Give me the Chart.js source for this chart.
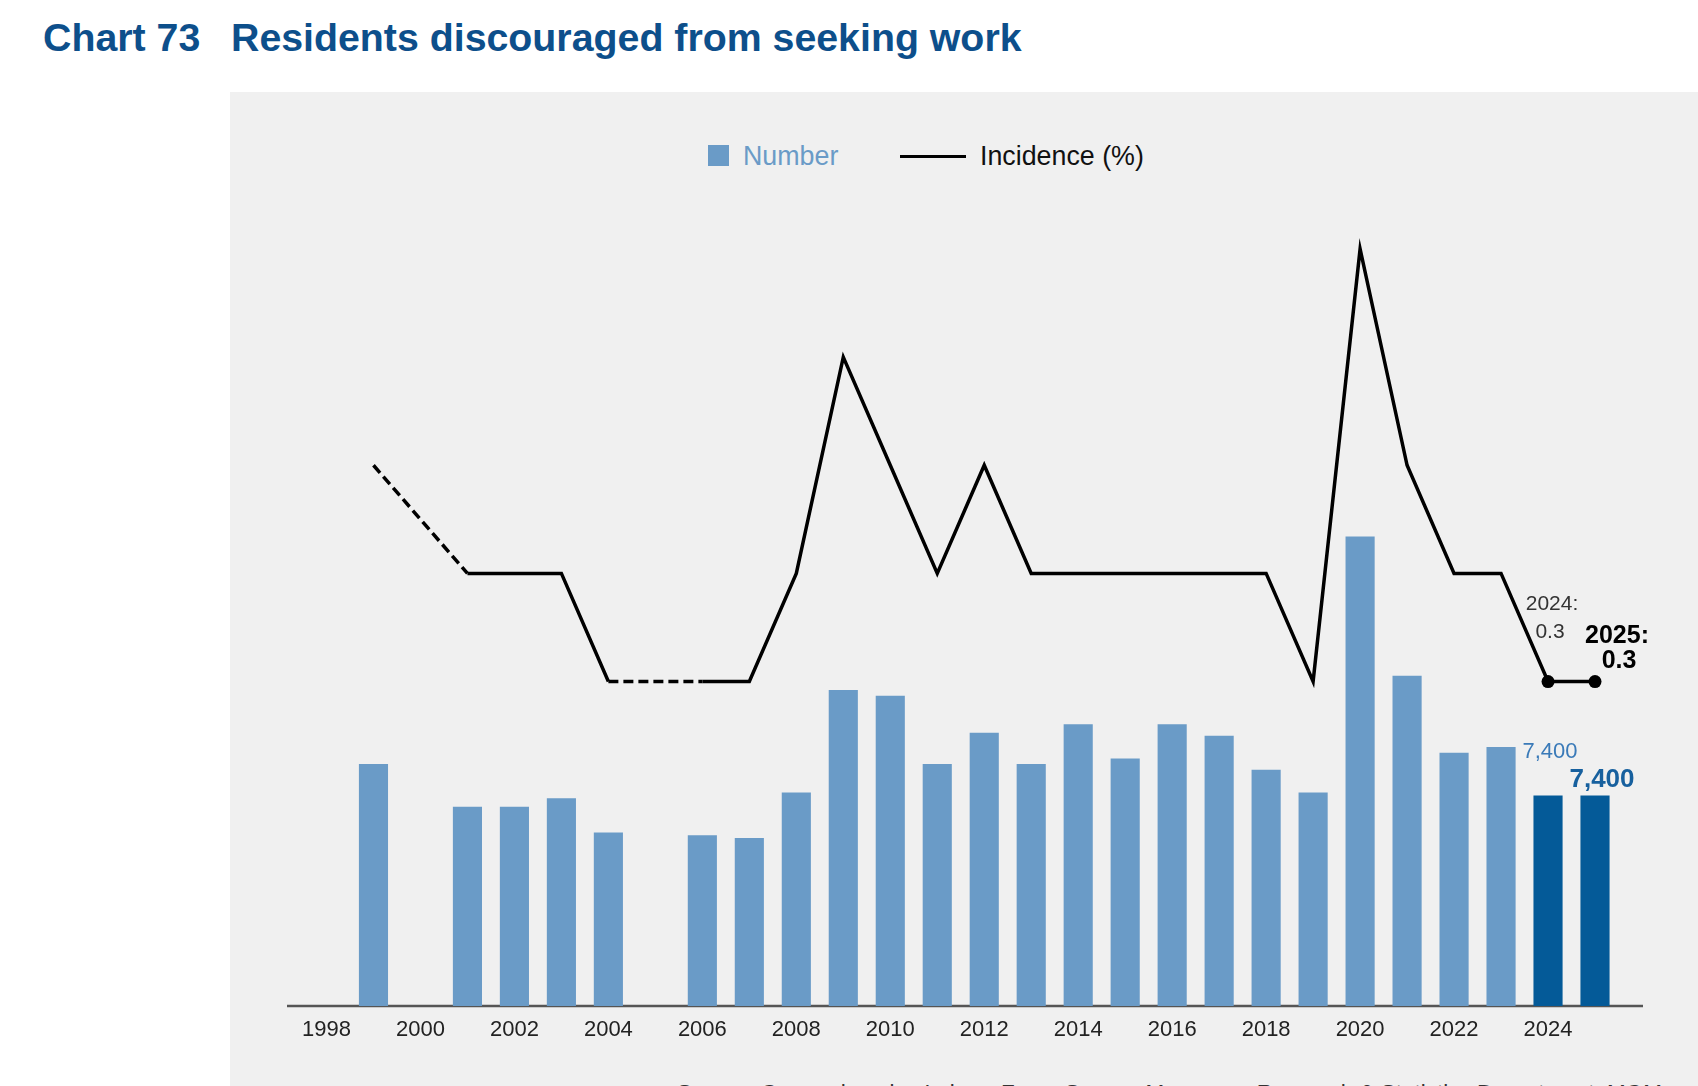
<!DOCTYPE html>
<html>
<head>
<meta charset="utf-8">
<script src="https://cdn.jsdelivr.net/npm/chart.js@4.4.1/dist/chart.umd.min.js"></script>
<style>
  html, body { margin: 0; padding: 0; background: #fff; width: 1698px; height: 1086px; overflow: hidden;
    font-family: "Liberation Sans", Arial, sans-serif; }
  #title { position: absolute; left: 43px; top: 18px; font-size: 39.3px; line-height: 39px; font-weight: bold;
    color: #0d4f8b; white-space: nowrap; }
  #title .num { display: inline-block; width: 188px; }
  #panel { position: absolute; left: 230px; top: 92px; width: 1468px; height: 994px; background: #f0f0f0; }
  #chart { position: absolute; left: 0; top: 0; }
  .lg { position: absolute; white-space: nowrap; font-size: 26.8px; line-height: 26px; }
  #source { position: absolute; left: 677px; top: 1082px; font-size: 22.5px; line-height: 22px; color: #333; white-space: nowrap; }
</style>
</head>
<body>
<div id="title"><span class="num">Chart 73</span>Residents discouraged from seeking work</div>
<div id="panel"></div>
<div class="lg" style="left:708px;top:145px;width:21px;height:21px;background:#6a9bc7;"></div>
<div class="lg" style="left:743px;top:143px;color:#6a9bc7;">Number</div>
<div class="lg" style="left:900px;top:155px;width:66px;height:3px;background:#000;"></div>
<div class="lg" style="left:980px;top:143px;color:#111;">Incidence (%)</div>
<div id="source">Source: Comprehensive Labour Force Survey, Manpower Research &amp; Statistics Department, MOM</div>
<canvas id="chart" width="1698" height="1086"></canvas>
<script>
// years on the x axis
const years = ['1998', '1999', '2000', '2001', '2002', '2003', '2004', '2005', '2006', '2007',
  '2008', '2009', '2010', '2011', '2012', '2013', '2014', '2015', '2016', '2017',
  '2018', '2019', '2020', '2021', '2022', '2023', '2024', '2025'];

// only every other year is labelled
const tickYears = ['1998', '2000', '2002', '2004', '2006', '2008', '2010', '2012',
  '2014', '2016', '2018', '2020', '2022', '2024'];

// number of discouraged residents (no survey in 1998, 2000, 2005)
const numberValues = [null, 8500, null, 7000, 7000, 7300, 6100, null, 6000, 5900,
  7500, 11100, 10900, 8500, 9600, 8500, 9900, 8700, 9900, 9500,
  8300, 7500, 16500, 11600, 8900, 9100, 7400, 7400];

// incidence (%)
const incidence = [null, 0.5, null, 0.4, 0.4, 0.4, 0.3, null, 0.3, 0.3,
  0.4, 0.6, 0.5, 0.4, 0.5, 0.4, 0.4, 0.4, 0.4, 0.4,
  0.4, 0.3, 0.7, 0.5, 0.4, 0.4, 0.3, 0.3];

const lightBlue = '#6a9bc7';
const darkBlue = '#045a98';

const barColors = years.map((y, i) => i >= years.length - 2 ? darkBlue : lightBlue);
const pointSizes = years.map((y, i) => i >= years.length - 2 ? 6.5 : 0);

Chart.defaults.font.family = '"Liberation Sans", Arial, sans-serif';

// axis line, a bit wider than the bars on both sides
const baseline = {
  id: 'baseline',
  beforeDatasetsDraw(chart) {
    const a = chart.chartArea;
    const ctx = chart.ctx;
    ctx.save();
    ctx.strokeStyle = '#555';
    ctx.lineWidth = 2.5;
    ctx.beginPath();
    ctx.moveTo(a.left - 16, a.bottom);
    ctx.lineTo(a.right + 24.5, a.bottom);
    ctx.stroke();
    ctx.restore();
  }
};

// the 2024 / 2025 callouts
const callouts = {
  id: 'callouts',
  afterDatasetsDraw(chart) {
    const ctx = chart.ctx;
    const pts = chart.getDatasetMeta(0).data;
    const bars = chart.getDatasetMeta(1).data;
    const n = years.length;
    const p24 = pts[n - 2], p25 = pts[n - 1];
    const b24 = bars[n - 2], b25 = bars[n - 1];
    const fmt = v => v.toLocaleString('en-US');
    ctx.save();
    ctx.textAlign = 'center';
    ctx.textBaseline = 'middle';

    ctx.fillStyle = '#333';
    ctx.font = '21px "Liberation Sans", Arial, sans-serif';
    ctx.fillText(years[n - 2] + ':', p24.x + 4, p24.y - 77);
    ctx.fillText(incidence[n - 2].toFixed(1), p24.x + 2, p24.y - 49);

    ctx.fillStyle = '#000';
    ctx.font = 'bold 25px "Liberation Sans", Arial, sans-serif';
    ctx.fillText(years[n - 1] + ':', p25.x + 22, p25.y - 45);
    ctx.fillText(incidence[n - 1].toFixed(1), p25.x + 24, p25.y - 20);

    ctx.fillStyle = '#3a7ab8';
    ctx.font = '22px "Liberation Sans", Arial, sans-serif';
    ctx.fillText(fmt(numberValues[n - 2]), b24.x + 2, b24.y - 43);

    ctx.fillStyle = '#17609e';
    ctx.font = 'bold 26px "Liberation Sans", Arial, sans-serif';
    ctx.fillText(fmt(numberValues[n - 1]), b25.x + 7, b25.y - 16);
    ctx.restore();
  }
};

new Chart(document.getElementById('chart'), {
  data: {
    labels: years,
    datasets: [
      {
        type: 'line',
        label: 'Incidence (%)',
        data: incidence,
        yAxisID: 'yLine',
        order: 0,
        borderColor: '#000',
        borderWidth: 3.5,
        backgroundColor: '#000',
        pointRadius: pointSizes,
        pointHoverRadius: pointSizes,
        pointBackgroundColor: '#000',
        pointBorderWidth: 0,
        tension: 0,
        spanGaps: true,
        segment: {
          borderDash: ctx => (ctx.p0.skip || ctx.p1.skip) ? [10, 5] : undefined
        }
      },
      {
        type: 'bar',
        label: 'Number',
        data: numberValues,
        yAxisID: 'yBar',
        order: 1,
        backgroundColor: barColors,
        barPercentage: 0.62,
        categoryPercentage: 1.0
      }
    ]
  },
  options: {
    responsive: false,
    animation: false,
    layout: { padding: { left: 303, right: 79.5, top: 140.8, bottom: 31.6 } },
    plugins: {
      legend: { display: false },
      tooltip: { enabled: false }
    },
    scales: {
      x: {
        offset: true,
        grid: { display: false, drawTicks: false },
        border: { display: false },
        ticks: {
          autoSkip: false,
          maxRotation: 0,
          padding: 11,
          color: '#222',
          font: { size: 22 },
          callback: function (value) {
            const lab = this.getLabelForValue(value);
            return tickYears.includes(lab) ? lab : '';
          }
        }
      },
      yBar: { display: false, min: 0, max: 30400 },
      yLine: { display: false, min: 0, max: 0.8 }
    }
  },
  plugins: [baseline, callouts]
});
</script>
</body>
</html>
